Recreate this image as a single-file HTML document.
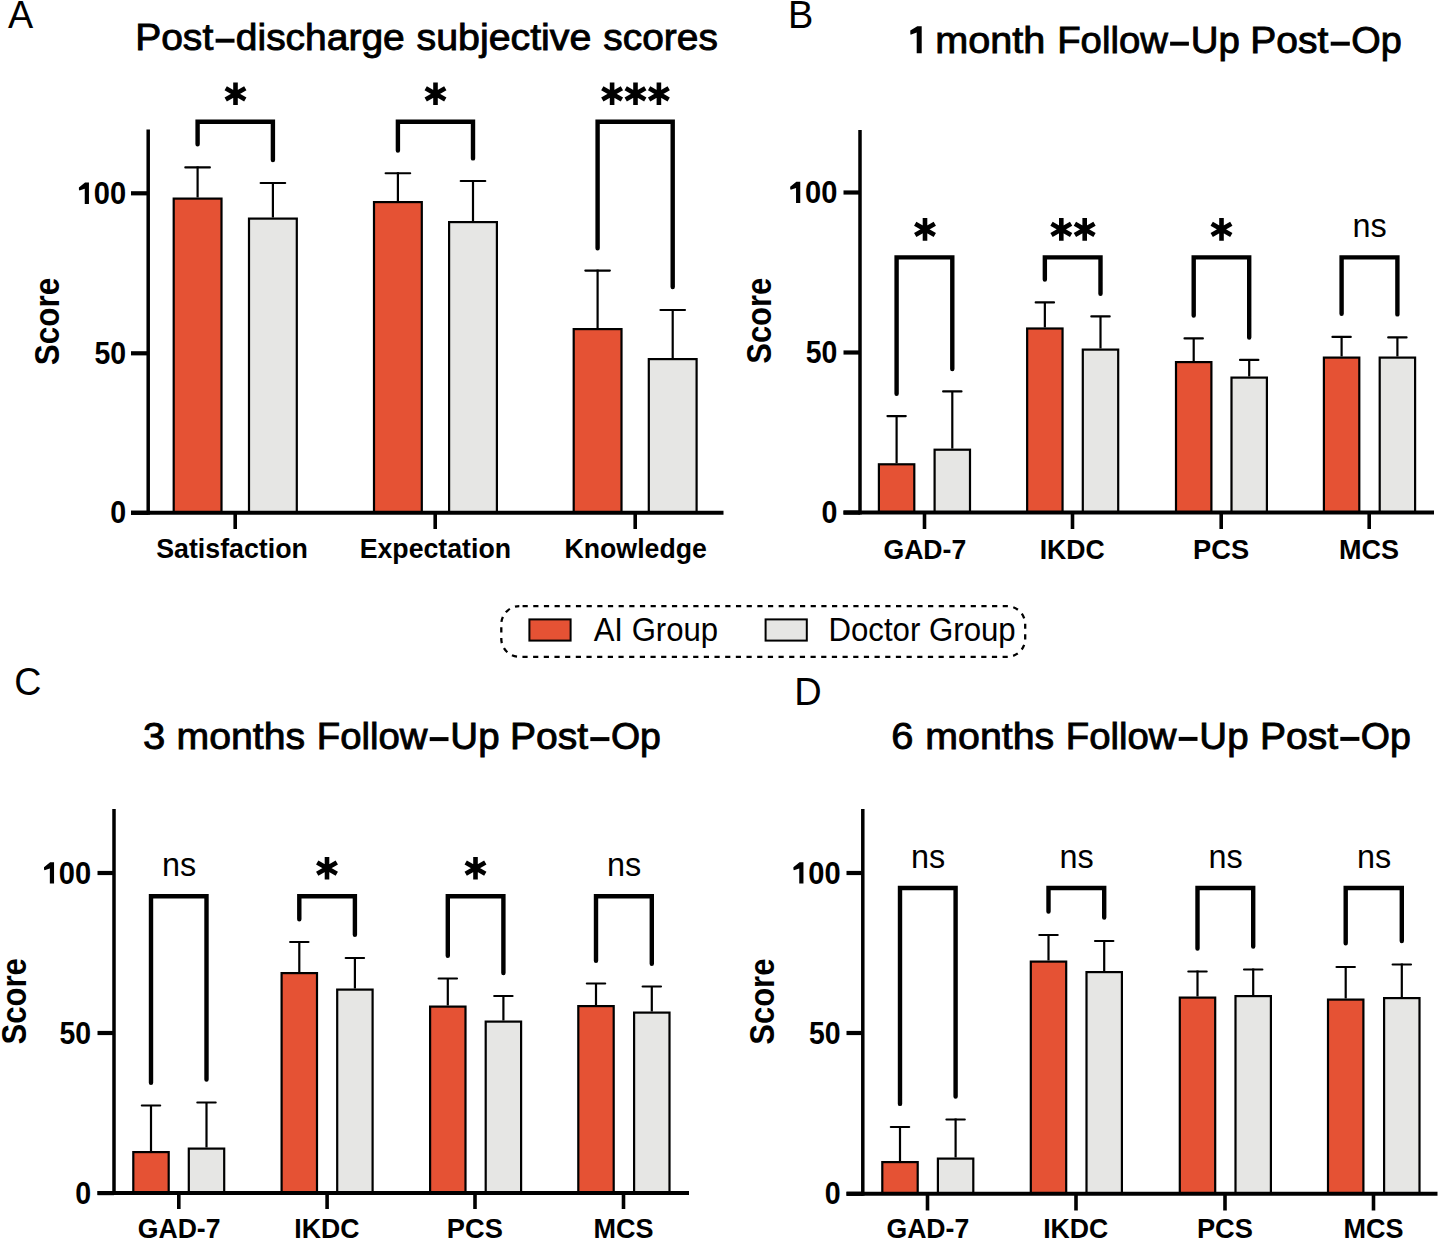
<!DOCTYPE html>
<html><head><meta charset="utf-8"><title>Figure</title><style>
html,body{margin:0;padding:0;background:#fff;overflow:hidden;}
svg{display:block;}
text{font-family:"Liberation Sans",sans-serif;fill:#000;font-kerning:none;}
.b{font-weight:bold;}
.ti{stroke:#000;stroke-width:0.9px;}
</style></head>
<body><svg width="1450" height="1249" viewBox="0 0 1450 1249">
<rect width="1450" height="1249" fill="#fff"/>
<line x1="197.60" y1="197.50" x2="197.60" y2="166.40" stroke="#000" stroke-width="2.2"/>
<line x1="185.30" y1="167.40" x2="209.90" y2="167.40" stroke="#000" stroke-width="2.1" stroke-linecap="round"/>
<rect x="173.70" y="198.60" width="47.80" height="314.20" fill="#E55234" stroke="#000" stroke-width="2.2"/>
<line x1="272.90" y1="217.50" x2="272.90" y2="182.00" stroke="#000" stroke-width="2.2"/>
<line x1="260.60" y1="183.00" x2="285.20" y2="183.00" stroke="#000" stroke-width="2.1" stroke-linecap="round"/>
<rect x="249.00" y="218.60" width="47.80" height="294.20" fill="#E6E6E4" stroke="#000" stroke-width="2.2"/>
<line x1="397.90" y1="201.00" x2="397.90" y2="172.20" stroke="#000" stroke-width="2.2"/>
<line x1="385.60" y1="173.20" x2="410.20" y2="173.20" stroke="#000" stroke-width="2.1" stroke-linecap="round"/>
<rect x="374.00" y="202.10" width="47.80" height="310.70" fill="#E55234" stroke="#000" stroke-width="2.2"/>
<line x1="473.00" y1="221.00" x2="473.00" y2="180.00" stroke="#000" stroke-width="2.2"/>
<line x1="460.70" y1="181.00" x2="485.30" y2="181.00" stroke="#000" stroke-width="2.1" stroke-linecap="round"/>
<rect x="449.10" y="222.10" width="47.80" height="290.70" fill="#E6E6E4" stroke="#000" stroke-width="2.2"/>
<line x1="597.60" y1="328.00" x2="597.60" y2="269.60" stroke="#000" stroke-width="2.2"/>
<line x1="585.30" y1="270.60" x2="609.90" y2="270.60" stroke="#000" stroke-width="2.1" stroke-linecap="round"/>
<rect x="573.70" y="329.10" width="47.80" height="183.70" fill="#E55234" stroke="#000" stroke-width="2.2"/>
<line x1="672.70" y1="358.00" x2="672.70" y2="309.00" stroke="#000" stroke-width="2.2"/>
<line x1="660.40" y1="310.00" x2="685.00" y2="310.00" stroke="#000" stroke-width="2.1" stroke-linecap="round"/>
<rect x="648.80" y="359.10" width="47.80" height="153.70" fill="#E6E6E4" stroke="#000" stroke-width="2.2"/>
<line x1="148.20" y1="129.50" x2="148.20" y2="514.80" stroke="#000" stroke-width="3.5"/>
<line x1="131.00" y1="512.80" x2="723.50" y2="512.80" stroke="#000" stroke-width="4"/>
<line x1="131.00" y1="193.30" x2="148.20" y2="193.30" stroke="#000" stroke-width="4.2"/>
<line x1="131.00" y1="353.30" x2="148.20" y2="353.30" stroke="#000" stroke-width="4.2"/>
<line x1="131.00" y1="512.80" x2="148.20" y2="512.80" stroke="#000" stroke-width="4.2"/>
<line x1="235.20" y1="512.80" x2="235.20" y2="529.00" stroke="#000" stroke-width="3.6"/>
<line x1="435.20" y1="512.80" x2="435.20" y2="529.00" stroke="#000" stroke-width="3.6"/>
<line x1="635.20" y1="512.80" x2="635.20" y2="529.00" stroke="#000" stroke-width="3.6"/>
<path d="M197.60,144.20V121.80H272.90V160.00" stroke="#000" stroke-width="4.4" fill="none" stroke-linejoin="miter" stroke-linecap="round"/>
<path d="M397.90,150.60V121.80H473.00V158.40" stroke="#000" stroke-width="4.4" fill="none" stroke-linejoin="miter" stroke-linecap="round"/>
<path d="M597.60,248.20V121.80H672.70V287.10" stroke="#000" stroke-width="4.4" fill="none" stroke-linejoin="miter" stroke-linecap="round"/>
<text x="93.75" y="203.90" font-size="30.6" textLength="32.34" lengthAdjust="spacingAndGlyphs" class="b">00</text>
<path d="M85.05,182.50L88.95,182.50L88.95,203.90L84.75,203.90L84.75,188.80L79.40,190.60L78.90,189.50L78.90,187.50Z" fill="#000"/>
<text x="94.42" y="363.90" font-size="30.6" textLength="31.64" lengthAdjust="spacingAndGlyphs" class="b">50</text>
<text x="110.17" y="523.40" font-size="30.6" textLength="15.90" lengthAdjust="spacingAndGlyphs" class="b">0</text>
<text x="156.23" y="558.40" font-size="27.2" textLength="151.63" lengthAdjust="spacingAndGlyphs" class="b">Satisfaction</text>
<text x="359.71" y="558.40" font-size="27.2" textLength="151.34" lengthAdjust="spacingAndGlyphs" class="b">Expectation</text>
<text x="564.52" y="558.40" font-size="27.2" textLength="142.30" lengthAdjust="spacingAndGlyphs" class="b">Knowledge</text>
<g transform="translate(59.15,364.30) rotate(-90)"><text x="-0.91" y="0.00" font-size="34.5" textLength="87.53" lengthAdjust="spacingAndGlyphs" class="b">Score</text></g>
<path d="M235.50,105.10L235.50,82.50M225.71,99.45L245.29,88.15M225.71,88.15L245.29,99.45" stroke="#000" stroke-width="4.6" fill="none"/>
<path d="M435.50,105.10L435.50,82.50M425.71,99.45L445.29,88.15M425.71,88.15L445.29,99.45" stroke="#000" stroke-width="4.6" fill="none"/>
<path d="M612.10,105.10L612.10,82.50M602.31,99.45L621.89,88.15M602.31,88.15L621.89,99.45" stroke="#000" stroke-width="4.6" fill="none"/>
<path d="M635.50,105.10L635.50,82.50M625.71,99.45L645.29,88.15M625.71,88.15L645.29,99.45" stroke="#000" stroke-width="4.6" fill="none"/>
<path d="M658.90,105.10L658.90,82.50M649.11,99.45L668.69,88.15M649.11,88.15L668.69,99.45" stroke="#000" stroke-width="4.6" fill="none"/>
<text x="135.15" y="50.30" font-size="37.6" textLength="78.09" lengthAdjust="spacingAndGlyphs" class="ti">Post</text>
<rect x="215.60" y="38.70" width="18.90" height="4.0" fill="#000"/>
<text x="235.81" y="50.30" font-size="37.6" textLength="168.97" lengthAdjust="spacingAndGlyphs" class="ti">discharge</text>
<text x="416.56" y="50.30" font-size="37.6" textLength="174.84" lengthAdjust="spacingAndGlyphs" class="ti">subjective</text>
<text x="603.37" y="50.30" font-size="37.6" textLength="114.49" lengthAdjust="spacingAndGlyphs" class="ti">scores</text>
<text x="8.00" y="27.90" font-size="39.2" textLength="25.18" lengthAdjust="spacingAndGlyphs" class="" fill="#231815">A</text>
<line x1="896.60" y1="463.20" x2="896.60" y2="415.70" stroke="#000" stroke-width="2.2"/>
<line x1="887.40" y1="416.10" x2="905.80" y2="416.10" stroke="#000" stroke-width="2.1" stroke-linecap="round"/>
<rect x="878.90" y="464.30" width="35.40" height="48.30" fill="#E55234" stroke="#000" stroke-width="2.2"/>
<line x1="952.30" y1="448.60" x2="952.30" y2="391.00" stroke="#000" stroke-width="2.2"/>
<line x1="943.10" y1="391.40" x2="961.50" y2="391.40" stroke="#000" stroke-width="2.1" stroke-linecap="round"/>
<rect x="934.60" y="449.70" width="35.40" height="62.90" fill="#E6E6E4" stroke="#000" stroke-width="2.2"/>
<line x1="1044.85" y1="327.40" x2="1044.85" y2="302.00" stroke="#000" stroke-width="2.2"/>
<line x1="1035.65" y1="302.40" x2="1054.05" y2="302.40" stroke="#000" stroke-width="2.1" stroke-linecap="round"/>
<rect x="1027.15" y="328.50" width="35.40" height="184.10" fill="#E55234" stroke="#000" stroke-width="2.2"/>
<line x1="1100.50" y1="348.50" x2="1100.50" y2="316.00" stroke="#000" stroke-width="2.2"/>
<line x1="1091.30" y1="316.40" x2="1109.70" y2="316.40" stroke="#000" stroke-width="2.1" stroke-linecap="round"/>
<rect x="1082.80" y="349.60" width="35.40" height="163.00" fill="#E6E6E4" stroke="#000" stroke-width="2.2"/>
<line x1="1193.70" y1="361.00" x2="1193.70" y2="338.00" stroke="#000" stroke-width="2.2"/>
<line x1="1184.50" y1="338.40" x2="1202.90" y2="338.40" stroke="#000" stroke-width="2.1" stroke-linecap="round"/>
<rect x="1176.00" y="362.10" width="35.40" height="150.50" fill="#E55234" stroke="#000" stroke-width="2.2"/>
<line x1="1249.20" y1="376.50" x2="1249.20" y2="359.50" stroke="#000" stroke-width="2.2"/>
<line x1="1240.00" y1="359.90" x2="1258.40" y2="359.90" stroke="#000" stroke-width="2.1" stroke-linecap="round"/>
<rect x="1231.50" y="377.60" width="35.40" height="135.00" fill="#E6E6E4" stroke="#000" stroke-width="2.2"/>
<line x1="1341.60" y1="356.50" x2="1341.60" y2="336.50" stroke="#000" stroke-width="2.2"/>
<line x1="1332.40" y1="336.90" x2="1350.80" y2="336.90" stroke="#000" stroke-width="2.1" stroke-linecap="round"/>
<rect x="1323.90" y="357.60" width="35.40" height="155.00" fill="#E55234" stroke="#000" stroke-width="2.2"/>
<line x1="1397.40" y1="356.50" x2="1397.40" y2="337.00" stroke="#000" stroke-width="2.2"/>
<line x1="1388.20" y1="337.40" x2="1406.60" y2="337.40" stroke="#000" stroke-width="2.1" stroke-linecap="round"/>
<rect x="1379.70" y="357.60" width="35.40" height="155.00" fill="#E6E6E4" stroke="#000" stroke-width="2.2"/>
<line x1="860.00" y1="130.00" x2="860.00" y2="514.60" stroke="#000" stroke-width="3.5"/>
<line x1="843.50" y1="512.60" x2="1434.00" y2="512.60" stroke="#000" stroke-width="4"/>
<line x1="843.50" y1="192.50" x2="860.00" y2="192.50" stroke="#000" stroke-width="4.2"/>
<line x1="843.50" y1="352.50" x2="860.00" y2="352.50" stroke="#000" stroke-width="4.2"/>
<line x1="843.50" y1="512.60" x2="860.00" y2="512.60" stroke="#000" stroke-width="4.2"/>
<line x1="924.50" y1="512.60" x2="924.50" y2="529.00" stroke="#000" stroke-width="3.6"/>
<line x1="1072.50" y1="512.60" x2="1072.50" y2="529.00" stroke="#000" stroke-width="3.6"/>
<line x1="1221.20" y1="512.60" x2="1221.20" y2="529.00" stroke="#000" stroke-width="3.6"/>
<line x1="1369.20" y1="512.60" x2="1369.20" y2="529.00" stroke="#000" stroke-width="3.6"/>
<path d="M896.60,393.80V257.40H952.30V369.10" stroke="#000" stroke-width="4.4" fill="none" stroke-linejoin="miter" stroke-linecap="round"/>
<path d="M1044.85,279.60V257.40H1100.50V293.80" stroke="#000" stroke-width="4.4" fill="none" stroke-linejoin="miter" stroke-linecap="round"/>
<path d="M1193.70,315.50V257.40H1249.20V337.50" stroke="#000" stroke-width="4.4" fill="none" stroke-linejoin="miter" stroke-linecap="round"/>
<path d="M1341.60,313.80V257.40H1397.40V314.40" stroke="#000" stroke-width="4.4" fill="none" stroke-linejoin="miter" stroke-linecap="round"/>
<text x="805.05" y="203.10" font-size="30.6" textLength="32.34" lengthAdjust="spacingAndGlyphs" class="b">00</text>
<path d="M796.35,181.70L800.25,181.70L800.25,203.10L796.05,203.10L796.05,188.00L790.70,189.80L790.20,188.70L790.20,186.70Z" fill="#000"/>
<text x="805.72" y="363.10" font-size="30.6" textLength="31.64" lengthAdjust="spacingAndGlyphs" class="b">50</text>
<text x="821.47" y="523.20" font-size="30.6" textLength="15.90" lengthAdjust="spacingAndGlyphs" class="b">0</text>
<text x="883.46" y="558.60" font-size="27.2" textLength="82.76" lengthAdjust="spacingAndGlyphs" class="b">GAD-7</text>
<text x="1039.72" y="558.60" font-size="27.2" textLength="65.11" lengthAdjust="spacingAndGlyphs" class="b">IKDC</text>
<text x="1193.08" y="558.60" font-size="27.2" textLength="56.09" lengthAdjust="spacingAndGlyphs" class="b">PCS</text>
<text x="1339.09" y="558.60" font-size="27.2" textLength="60.06" lengthAdjust="spacingAndGlyphs" class="b">MCS</text>
<g transform="translate(771.45,362.90) rotate(-90)"><text x="-0.89" y="0.00" font-size="34.5" textLength="86.10" lengthAdjust="spacingAndGlyphs" class="b">Score</text></g>
<path d="M925.00,240.70L925.00,218.10M915.21,235.05L934.79,223.75M915.21,223.75L934.79,235.05" stroke="#000" stroke-width="4.6" fill="none"/>
<path d="M1061.30,240.70L1061.30,218.10M1051.51,235.05L1071.09,223.75M1051.51,223.75L1071.09,235.05" stroke="#000" stroke-width="4.6" fill="none"/>
<path d="M1084.70,240.70L1084.70,218.10M1074.91,235.05L1094.49,223.75M1074.91,223.75L1094.49,235.05" stroke="#000" stroke-width="4.6" fill="none"/>
<path d="M1221.50,240.70L1221.50,218.10M1211.71,235.05L1231.29,223.75M1211.71,223.75L1231.29,235.05" stroke="#000" stroke-width="4.6" fill="none"/>
<text x="1352.60" y="237.20" font-size="33.5" textLength="34.22" lengthAdjust="spacingAndGlyphs" class="">ns</text>
<path d="M917.30,26.30L921.70,26.30L921.70,53.30L916.70,53.30L916.70,32.40L910.60,34.70L910.30,33.30L910.30,30.50Z" fill="#000"/>
<text x="935.32" y="53.30" font-size="37.6" textLength="110.10" lengthAdjust="spacingAndGlyphs" class="ti">month</text>
<text x="1057.21" y="53.30" font-size="37.6" textLength="110.75" lengthAdjust="spacingAndGlyphs" class="ti">Follow</text>
<rect x="1170.10" y="41.70" width="18.80" height="4.0" fill="#000"/>
<text x="1190.78" y="53.30" font-size="37.6" textLength="49.18" lengthAdjust="spacingAndGlyphs" class="ti">Up</text>
<text x="1250.35" y="53.30" font-size="37.6" textLength="78.09" lengthAdjust="spacingAndGlyphs" class="ti">Post</text>
<rect x="1330.70" y="41.70" width="19.10" height="4.0" fill="#000"/>
<text x="1351.26" y="53.30" font-size="37.6" textLength="50.48" lengthAdjust="spacingAndGlyphs" class="ti">Op</text>
<text x="787.89" y="28.10" font-size="39.2" textLength="25.31" lengthAdjust="spacingAndGlyphs" class="" fill="#231815">B</text>
<line x1="151.00" y1="1151.00" x2="151.00" y2="1105.00" stroke="#000" stroke-width="2.2"/>
<line x1="141.80" y1="1105.50" x2="160.20" y2="1105.50" stroke="#000" stroke-width="2.1" stroke-linecap="round"/>
<rect x="133.30" y="1152.10" width="35.40" height="41.00" fill="#E55234" stroke="#000" stroke-width="2.2"/>
<line x1="206.50" y1="1147.50" x2="206.50" y2="1102.00" stroke="#000" stroke-width="2.2"/>
<line x1="197.30" y1="1102.50" x2="215.70" y2="1102.50" stroke="#000" stroke-width="2.1" stroke-linecap="round"/>
<rect x="188.80" y="1148.60" width="35.40" height="44.50" fill="#E6E6E4" stroke="#000" stroke-width="2.2"/>
<line x1="299.30" y1="972.00" x2="299.30" y2="941.50" stroke="#000" stroke-width="2.2"/>
<line x1="290.10" y1="942.00" x2="308.50" y2="942.00" stroke="#000" stroke-width="2.1" stroke-linecap="round"/>
<rect x="281.60" y="973.10" width="35.40" height="220.00" fill="#E55234" stroke="#000" stroke-width="2.2"/>
<line x1="354.90" y1="988.50" x2="354.90" y2="957.50" stroke="#000" stroke-width="2.2"/>
<line x1="345.70" y1="958.00" x2="364.10" y2="958.00" stroke="#000" stroke-width="2.1" stroke-linecap="round"/>
<rect x="337.20" y="989.60" width="35.40" height="203.50" fill="#E6E6E4" stroke="#000" stroke-width="2.2"/>
<line x1="447.80" y1="1005.50" x2="447.80" y2="978.00" stroke="#000" stroke-width="2.2"/>
<line x1="438.60" y1="978.50" x2="457.00" y2="978.50" stroke="#000" stroke-width="2.1" stroke-linecap="round"/>
<rect x="430.10" y="1006.60" width="35.40" height="186.50" fill="#E55234" stroke="#000" stroke-width="2.2"/>
<line x1="503.40" y1="1020.50" x2="503.40" y2="995.50" stroke="#000" stroke-width="2.2"/>
<line x1="494.20" y1="996.00" x2="512.60" y2="996.00" stroke="#000" stroke-width="2.1" stroke-linecap="round"/>
<rect x="485.70" y="1021.60" width="35.40" height="171.50" fill="#E6E6E4" stroke="#000" stroke-width="2.2"/>
<line x1="596.00" y1="1005.00" x2="596.00" y2="983.00" stroke="#000" stroke-width="2.2"/>
<line x1="586.80" y1="983.50" x2="605.20" y2="983.50" stroke="#000" stroke-width="2.1" stroke-linecap="round"/>
<rect x="578.30" y="1006.10" width="35.40" height="187.00" fill="#E55234" stroke="#000" stroke-width="2.2"/>
<line x1="651.80" y1="1011.50" x2="651.80" y2="986.00" stroke="#000" stroke-width="2.2"/>
<line x1="642.60" y1="986.50" x2="661.00" y2="986.50" stroke="#000" stroke-width="2.1" stroke-linecap="round"/>
<rect x="634.10" y="1012.60" width="35.40" height="180.50" fill="#E6E6E4" stroke="#000" stroke-width="2.2"/>
<line x1="114.00" y1="809.00" x2="114.00" y2="1195.10" stroke="#000" stroke-width="3.5"/>
<line x1="97.50" y1="1193.10" x2="689.00" y2="1193.10" stroke="#000" stroke-width="4"/>
<line x1="97.50" y1="873.00" x2="114.00" y2="873.00" stroke="#000" stroke-width="4.2"/>
<line x1="97.50" y1="1033.00" x2="114.00" y2="1033.00" stroke="#000" stroke-width="4.2"/>
<line x1="97.50" y1="1193.10" x2="114.00" y2="1193.10" stroke="#000" stroke-width="4.2"/>
<line x1="178.80" y1="1193.10" x2="178.80" y2="1209.00" stroke="#000" stroke-width="3.6"/>
<line x1="327.10" y1="1193.10" x2="327.10" y2="1209.00" stroke="#000" stroke-width="3.6"/>
<line x1="475.00" y1="1193.10" x2="475.00" y2="1209.00" stroke="#000" stroke-width="3.6"/>
<line x1="623.50" y1="1193.10" x2="623.50" y2="1209.00" stroke="#000" stroke-width="3.6"/>
<path d="M151.00,1082.70V896.20H206.50V1079.60" stroke="#000" stroke-width="4.4" fill="none" stroke-linejoin="miter" stroke-linecap="round"/>
<path d="M299.30,919.20V896.20H354.90V934.70" stroke="#000" stroke-width="4.4" fill="none" stroke-linejoin="miter" stroke-linecap="round"/>
<path d="M447.80,955.70V896.20H503.40V973.10" stroke="#000" stroke-width="4.4" fill="none" stroke-linejoin="miter" stroke-linecap="round"/>
<path d="M596.00,960.70V896.20H651.80V963.70" stroke="#000" stroke-width="4.4" fill="none" stroke-linejoin="miter" stroke-linecap="round"/>
<text x="58.85" y="883.60" font-size="30.6" textLength="32.34" lengthAdjust="spacingAndGlyphs" class="b">00</text>
<path d="M50.15,862.20L54.05,862.20L54.05,883.60L49.85,883.60L49.85,868.50L44.50,870.30L44.00,869.20L44.00,867.20Z" fill="#000"/>
<text x="59.52" y="1043.60" font-size="30.6" textLength="31.64" lengthAdjust="spacingAndGlyphs" class="b">50</text>
<text x="75.27" y="1203.70" font-size="30.6" textLength="15.90" lengthAdjust="spacingAndGlyphs" class="b">0</text>
<text x="137.76" y="1238.40" font-size="27.2" textLength="82.76" lengthAdjust="spacingAndGlyphs" class="b">GAD-7</text>
<text x="294.32" y="1238.40" font-size="27.2" textLength="65.11" lengthAdjust="spacingAndGlyphs" class="b">IKDC</text>
<text x="446.88" y="1238.40" font-size="27.2" textLength="56.09" lengthAdjust="spacingAndGlyphs" class="b">PCS</text>
<text x="593.39" y="1238.40" font-size="27.2" textLength="60.06" lengthAdjust="spacingAndGlyphs" class="b">MCS</text>
<g transform="translate(25.95,1043.70) rotate(-90)"><text x="-0.90" y="0.00" font-size="34.5" textLength="86.46" lengthAdjust="spacingAndGlyphs" class="b">Score</text></g>
<text x="162.10" y="876.00" font-size="33.5" textLength="34.22" lengthAdjust="spacingAndGlyphs" class="">ns</text>
<path d="M327.00,879.50L327.00,856.90M317.21,873.85L336.79,862.55M317.21,862.55L336.79,873.85" stroke="#000" stroke-width="4.6" fill="none"/>
<path d="M475.50,879.50L475.50,856.90M465.71,873.85L485.29,862.55M465.71,862.55L485.29,873.85" stroke="#000" stroke-width="4.6" fill="none"/>
<text x="607.10" y="876.00" font-size="33.5" textLength="34.22" lengthAdjust="spacingAndGlyphs" class="">ns</text>
<text x="143.02" y="748.70" font-size="37.6" textLength="22.29" lengthAdjust="spacingAndGlyphs" class="ti">3</text>
<text x="176.55" y="748.70" font-size="37.6" textLength="128.52" lengthAdjust="spacingAndGlyphs" class="ti">months</text>
<text x="316.81" y="748.70" font-size="37.6" textLength="110.75" lengthAdjust="spacingAndGlyphs" class="ti">Follow</text>
<rect x="429.70" y="737.10" width="18.80" height="4.0" fill="#000"/>
<text x="450.38" y="748.70" font-size="37.6" textLength="49.18" lengthAdjust="spacingAndGlyphs" class="ti">Up</text>
<text x="509.95" y="748.70" font-size="37.6" textLength="78.09" lengthAdjust="spacingAndGlyphs" class="ti">Post</text>
<rect x="590.30" y="737.10" width="19.10" height="4.0" fill="#000"/>
<text x="610.88" y="748.70" font-size="37.6" textLength="49.95" lengthAdjust="spacingAndGlyphs" class="ti">Op</text>
<text x="14.19" y="695.40" font-size="39.2" textLength="27.14" lengthAdjust="spacingAndGlyphs" class="" fill="#231815">C</text>
<line x1="900.00" y1="1161.00" x2="900.00" y2="1126.00" stroke="#000" stroke-width="2.2"/>
<line x1="890.80" y1="1127.00" x2="909.20" y2="1127.00" stroke="#000" stroke-width="2.1" stroke-linecap="round"/>
<rect x="882.30" y="1162.10" width="35.40" height="31.70" fill="#E55234" stroke="#000" stroke-width="2.2"/>
<line x1="955.60" y1="1157.50" x2="955.60" y2="1118.50" stroke="#000" stroke-width="2.2"/>
<line x1="946.40" y1="1119.50" x2="964.80" y2="1119.50" stroke="#000" stroke-width="2.1" stroke-linecap="round"/>
<rect x="937.90" y="1158.60" width="35.40" height="35.20" fill="#E6E6E4" stroke="#000" stroke-width="2.2"/>
<line x1="1048.50" y1="960.50" x2="1048.50" y2="934.00" stroke="#000" stroke-width="2.2"/>
<line x1="1039.30" y1="935.00" x2="1057.70" y2="935.00" stroke="#000" stroke-width="2.1" stroke-linecap="round"/>
<rect x="1030.80" y="961.60" width="35.40" height="232.20" fill="#E55234" stroke="#000" stroke-width="2.2"/>
<line x1="1104.20" y1="971.00" x2="1104.20" y2="940.00" stroke="#000" stroke-width="2.2"/>
<line x1="1095.00" y1="941.00" x2="1113.40" y2="941.00" stroke="#000" stroke-width="2.1" stroke-linecap="round"/>
<rect x="1086.50" y="972.10" width="35.40" height="221.70" fill="#E6E6E4" stroke="#000" stroke-width="2.2"/>
<line x1="1197.50" y1="996.50" x2="1197.50" y2="970.50" stroke="#000" stroke-width="2.2"/>
<line x1="1188.30" y1="971.50" x2="1206.70" y2="971.50" stroke="#000" stroke-width="2.1" stroke-linecap="round"/>
<rect x="1179.80" y="997.60" width="35.40" height="196.20" fill="#E55234" stroke="#000" stroke-width="2.2"/>
<line x1="1253.20" y1="995.00" x2="1253.20" y2="968.50" stroke="#000" stroke-width="2.2"/>
<line x1="1244.00" y1="969.50" x2="1262.40" y2="969.50" stroke="#000" stroke-width="2.1" stroke-linecap="round"/>
<rect x="1235.50" y="996.10" width="35.40" height="197.70" fill="#E6E6E4" stroke="#000" stroke-width="2.2"/>
<line x1="1345.70" y1="998.50" x2="1345.70" y2="966.00" stroke="#000" stroke-width="2.2"/>
<line x1="1336.50" y1="967.00" x2="1354.90" y2="967.00" stroke="#000" stroke-width="2.1" stroke-linecap="round"/>
<rect x="1328.00" y="999.60" width="35.40" height="194.20" fill="#E55234" stroke="#000" stroke-width="2.2"/>
<line x1="1401.80" y1="997.00" x2="1401.80" y2="963.50" stroke="#000" stroke-width="2.2"/>
<line x1="1392.60" y1="964.50" x2="1411.00" y2="964.50" stroke="#000" stroke-width="2.1" stroke-linecap="round"/>
<rect x="1384.10" y="998.10" width="35.40" height="195.70" fill="#E6E6E4" stroke="#000" stroke-width="2.2"/>
<line x1="862.80" y1="809.00" x2="862.80" y2="1195.80" stroke="#000" stroke-width="3.5"/>
<line x1="846.50" y1="1193.80" x2="1437.50" y2="1193.80" stroke="#000" stroke-width="4"/>
<line x1="846.50" y1="873.00" x2="862.80" y2="873.00" stroke="#000" stroke-width="4.2"/>
<line x1="846.50" y1="1033.00" x2="862.80" y2="1033.00" stroke="#000" stroke-width="4.2"/>
<line x1="846.50" y1="1193.80" x2="862.80" y2="1193.80" stroke="#000" stroke-width="4.2"/>
<line x1="927.50" y1="1193.80" x2="927.50" y2="1210.50" stroke="#000" stroke-width="3.6"/>
<line x1="1076.00" y1="1193.80" x2="1076.00" y2="1210.50" stroke="#000" stroke-width="3.6"/>
<line x1="1225.00" y1="1193.80" x2="1225.00" y2="1210.50" stroke="#000" stroke-width="3.6"/>
<line x1="1373.50" y1="1193.80" x2="1373.50" y2="1210.50" stroke="#000" stroke-width="3.6"/>
<path d="M900.00,1103.90V888.00H955.60V1096.50" stroke="#000" stroke-width="4.4" fill="none" stroke-linejoin="miter" stroke-linecap="round"/>
<path d="M1048.50,911.60V888.00H1104.20V917.60" stroke="#000" stroke-width="4.4" fill="none" stroke-linejoin="miter" stroke-linecap="round"/>
<path d="M1197.50,948.50V888.00H1253.20V946.60" stroke="#000" stroke-width="4.4" fill="none" stroke-linejoin="miter" stroke-linecap="round"/>
<path d="M1345.70,943.30V888.00H1401.80V941.00" stroke="#000" stroke-width="4.4" fill="none" stroke-linejoin="miter" stroke-linecap="round"/>
<text x="808.25" y="883.60" font-size="30.6" textLength="32.34" lengthAdjust="spacingAndGlyphs" class="b">00</text>
<path d="M799.55,862.20L803.45,862.20L803.45,883.60L799.25,883.60L799.25,868.50L793.90,870.30L793.40,869.20L793.40,867.20Z" fill="#000"/>
<text x="808.92" y="1043.60" font-size="30.6" textLength="31.64" lengthAdjust="spacingAndGlyphs" class="b">50</text>
<text x="824.67" y="1204.40" font-size="30.6" textLength="15.90" lengthAdjust="spacingAndGlyphs" class="b">0</text>
<text x="886.46" y="1238.40" font-size="27.2" textLength="82.76" lengthAdjust="spacingAndGlyphs" class="b">GAD-7</text>
<text x="1043.22" y="1238.40" font-size="27.2" textLength="65.11" lengthAdjust="spacingAndGlyphs" class="b">IKDC</text>
<text x="1196.88" y="1238.40" font-size="27.2" textLength="56.09" lengthAdjust="spacingAndGlyphs" class="b">PCS</text>
<text x="1343.39" y="1238.40" font-size="27.2" textLength="60.06" lengthAdjust="spacingAndGlyphs" class="b">MCS</text>
<g transform="translate(773.85,1043.80) rotate(-90)"><text x="-0.89" y="0.00" font-size="34.5" textLength="86.05" lengthAdjust="spacingAndGlyphs" class="b">Score</text></g>
<text x="911.10" y="867.80" font-size="33.5" textLength="34.22" lengthAdjust="spacingAndGlyphs" class="">ns</text>
<text x="1059.60" y="867.80" font-size="33.5" textLength="34.22" lengthAdjust="spacingAndGlyphs" class="">ns</text>
<text x="1208.60" y="867.80" font-size="33.5" textLength="34.22" lengthAdjust="spacingAndGlyphs" class="">ns</text>
<text x="1357.10" y="867.80" font-size="33.5" textLength="34.22" lengthAdjust="spacingAndGlyphs" class="">ns</text>
<text x="891.33" y="748.50" font-size="37.6" textLength="22.18" lengthAdjust="spacingAndGlyphs" class="ti">6</text>
<text x="925.34" y="748.50" font-size="37.6" textLength="128.83" lengthAdjust="spacingAndGlyphs" class="ti">months</text>
<text x="1065.81" y="748.50" font-size="37.6" textLength="110.75" lengthAdjust="spacingAndGlyphs" class="ti">Follow</text>
<rect x="1178.70" y="736.90" width="18.80" height="4.0" fill="#000"/>
<text x="1199.38" y="748.50" font-size="37.6" textLength="49.18" lengthAdjust="spacingAndGlyphs" class="ti">Up</text>
<text x="1259.95" y="748.50" font-size="37.6" textLength="78.09" lengthAdjust="spacingAndGlyphs" class="ti">Post</text>
<rect x="1340.30" y="736.90" width="19.10" height="4.0" fill="#000"/>
<text x="1360.87" y="748.50" font-size="37.6" textLength="50.05" lengthAdjust="spacingAndGlyphs" class="ti">Op</text>
<text x="794.28" y="704.80" font-size="39.2" textLength="27.43" lengthAdjust="spacingAndGlyphs" class="" fill="#231815">D</text>

<rect x="501.3" y="606.2" width="523.9" height="50.6" rx="18" ry="18" fill="none" stroke="#000" stroke-width="2.3" stroke-dasharray="5.2 5.47" stroke-dashoffset="7.4"/>
<rect x="529.4" y="619.4" width="41.2" height="21.2" fill="#E55234" stroke="#000" stroke-width="2"/>
<text x="593.64" y="640.70" font-size="32.6" textLength="124.47" lengthAdjust="spacingAndGlyphs" class="">AI Group</text>
<rect x="765.6" y="619.4" width="41.2" height="21.2" fill="#E6E6E4" stroke="#000" stroke-width="2"/>
<text x="828.44" y="640.70" font-size="32.6" textLength="187.27" lengthAdjust="spacingAndGlyphs" class="">Doctor Group</text>

</svg></body></html>
